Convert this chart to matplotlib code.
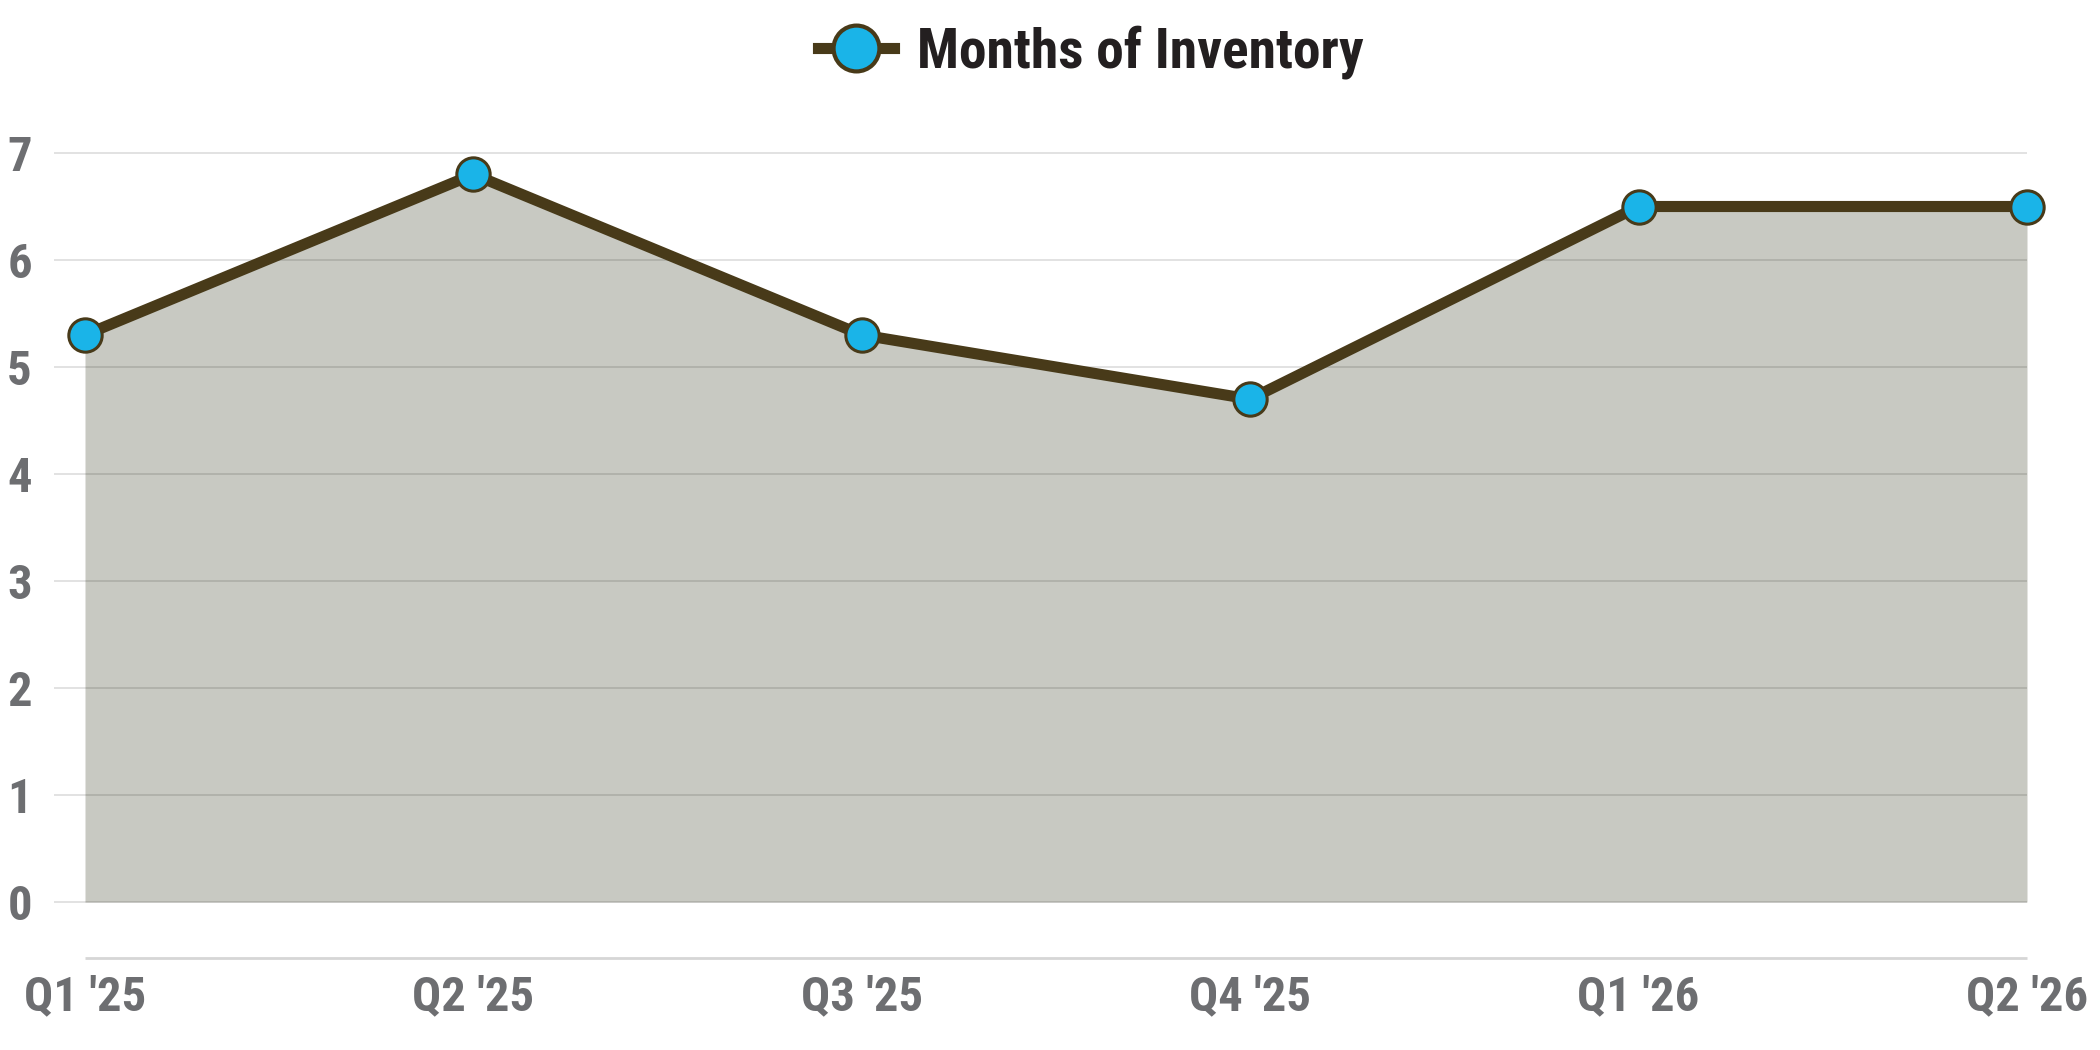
import matplotlib
matplotlib.use("Agg")
import matplotlib.pyplot as plt
from matplotlib.lines import Line2D

quarters = ["Q1 '25", "Q2 '25", "Q3 '25", "Q4 '25", "Q1 '26", "Q2 '26"]
months_inventory = [5.3, 6.8, 5.3, 4.7, 6.5, 6.5]
yticks = [0, 1, 2, 3, 4, 5, 6, 7]

LINE = "#483a19"
DOT = "#1ab4e8"
FILL = "#c8c9c2"
TICK = "#6d6e71"
fonts = ["Roboto Condensed", "Liberation Sans Narrow", "Lato", "DejaVu Sans"]
plt.rcParams["font.family"] = fonts

fig = plt.figure(figsize=(21, 10.5), dpi=100)
# axes laid out in pixels; gridlines start a little left of the first point
W, H = 2100, 1050
left_px, right_px = 54, 2027
ybot, ytop = -0.52, 7.06
top_px7, zero_px = 153, 902
unit = (zero_px - top_px7) / 7.0
bot_px = zero_px + (0 - ybot) * unit
top_px = zero_px - ytop * unit
ax = fig.add_axes([left_px / W, 1 - bot_px / H, (right_px - left_px) / W, (bot_px - top_px) / H])

xs = list(range(len(quarters)))
step = (right_px - 85) / (len(xs) - 1)
ax.set_xlim(-(85 - left_px) / step, len(xs) - 1)
ax.set_ylim(ybot, ytop)

ax.fill_between(xs, months_inventory, 0, color=FILL, zorder=1, linewidth=0)
for t in yticks:
    ax.axhline(t, color="black", alpha=0.15, linewidth=1.1, zorder=2)
ax.hlines(ybot, 0, len(xs) - 1, color="#d6d6d6", linewidth=2, zorder=2, clip_on=False)
ax.plot(xs, months_inventory, color=LINE, linewidth=8, zorder=3,
        marker="o", markersize=24, markerfacecolor=DOT, markeredgecolor=LINE,
        markeredgewidth=2.2, clip_on=False)

for s in ax.spines.values():
    s.set_visible(False)
ax.set_yticks(yticks)
ax.set_yticklabels([str(t) for t in yticks], fontsize=35, fontweight="bold", color=TICK)
ax.set_xticks(xs)
ax.set_xticklabels(quarters, fontsize=35, fontweight="bold", color=TICK)
ax.tick_params(axis="both", length=0)
ax.tick_params(axis="y", pad=16)
ax.tick_params(axis="x", pad=12)

handle = Line2D([], [], color=LINE, linewidth=8, marker="o", markersize=33,
                markerfacecolor=DOT, markeredgecolor=LINE, markeredgewidth=3)
fig.legend([handle], ["Months of Inventory"], loc="center",
           bbox_to_anchor=(0.5195, 1 - 52 / H), frameon=False, handlelength=1.37,
           handletextpad=0.42, labelcolor="#231f20",
           prop={"family": fonts, "weight": "bold", "size": 40})

fig.savefig("out.png", dpi=100, facecolor="white")
